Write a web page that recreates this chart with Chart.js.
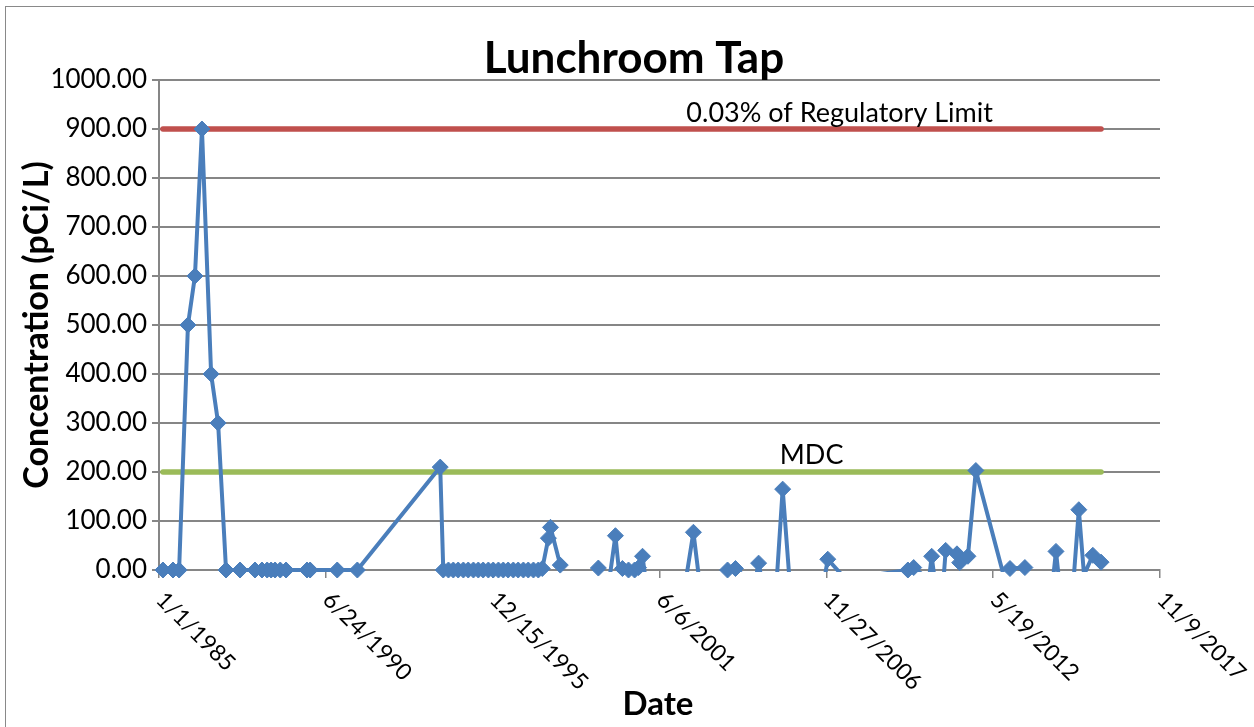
<!DOCTYPE html>
<html>
<head>
<meta charset="utf-8">
<script src="https://cdn.jsdelivr.net/npm/chart.js@4.4.0/dist/chart.umd.min.js"></script>
<style>
    html, body { margin: 0; padding: 0; background: #fff; }
    #wrap { position: relative; width: 1254px; height: 727px; overflow: hidden; }
    #marco { position: absolute; left: 5px; top: 6px; width: 1270px; height: 740px; border: 1px solid #898989; box-sizing: border-box; }
    canvas { position: absolute; left: 0; top: 0; }
</style>
</head>
<body>
<div id="wrap">
    <div id="marco"></div>
    <canvas id="grafica" width="1254" height="727"></canvas>
</div>
<script>
// Fechas de muestreo (año decimal) y concentraciones (pCi/L); null = sin dato
const sampleYears = [
    1985.13, 1985.46, 1985.66, 1985.95, 1986.18, 1986.41, 1986.71, 1986.94, 1987.20, 1987.66,
    1988.15, 1988.38, 1988.55, 1988.68, 1988.81, 1988.98, 1989.17, 1989.86, 1989.96, 1990.85,
    1991.51, 1994.23,
    1994.33, 1994.50, 1994.66, 1994.82, 1994.99, 1995.15, 1995.32, 1995.48, 1995.64, 1995.81,
    1995.97, 1996.14, 1996.30, 1996.46, 1996.63, 1996.79, 1996.96, 1997.12, 1997.29, 1997.45,
    1997.58, 1997.78, 1997.85, 1998.17, 1998.80, 1999.42, 1999.60, 1999.78, 1999.98, 2000.11,
    2000.21, 2000.41, 2000.61, 2000.74, 2000.87, 2000.97, 2002.28, 2002.54, 2002.77, 2003.20,
    2003.66, 2003.92, 2004.55, 2004.68, 2004.81, 2005.27, 2005.47, 2005.70, 2006.82, 2006.95,
    2007.70, 2008.69, 2009.58, 2009.77, 2010.27, 2010.36, 2010.46, 2010.76, 2010.82, 2011.19,
    2011.28, 2011.55, 2011.81, 2012.76, 2012.93, 2013.42, 2013.70, 2014.34,
    2014.44, 2014.54, 2015.03, 2015.19, 2015.36, 2015.65, 2015.92
];
const concentration = [
    0, 0, 0, 500, 600, 900, 400, 300, 0, 0,
    0, 0, 0, 0, 0, 0, 0, 0, 0, 0,
    0, 210,
    0, 0, 0, 0, 0, 0, 0, 0, 0, 0,
    0, 0, 0, 0, 0, 0, 0, 0, 0, 0,
    3, 65, 87, 10, null, 4, null, -20, 70, -10,
    3, 0, 0, 5, 28, -20, -25, 77, -40, null,
    0, 3, -30, 14, -30, -25, 165, -25, -25, 22,
    -30, -8, 0, 5, -20, 28, -20, -10, 40, 33,
    15, 28, 203, -20, 3, 5, null, -20,
    38, -20, -10, 123, -10, 30, 16
];

// Líneas de referencia
const limitLevel = 900;
const mdcLevel = 200;
const refStartYear = 1985.13;
const refEndYear = 2015.92;
const refLabels = ["0.03% of Regulatory Limit", "MDC"];
const refLabelYears = [2007.34, 2006.42];

// Marcas del eje X (días desde 1/1/1985)
const tickDays = [0, 2000, 4000, 6000, 8000, 10000, 12000];
const yTicks = [0, 100, 200, 300, 400, 500, 600, 700, 800, 900, 1000];

const azul = "#4A7EBB";
const rojo = "#C0504D";
const verde = "#9BBB59";
const gris = "#868686";

const toDays = y => (y - 1985) * 365.25;
const base = Date.UTC(1985, 0, 1);
function fechaTexto(d) {
    const f = new Date(base + d * 86400000);
    return (f.getUTCMonth() + 1) + "/" + f.getUTCDate() + "/" + f.getUTCFullYear();
}

const puntos = sampleYears.map((y, i) => ({ x: toDays(y), y: concentration[i] }));

const textos = {
    id: "textos",
    afterDraw(chart) {
        const ctx = chart.ctx;
        const sx = chart.scales.x, sy = chart.scales.y;
        ctx.save();
        ctx.fillStyle = "#000";
        // título
        ctx.font = "bold 44px Lato";
        ctx.textAlign = "center";
        ctx.textBaseline = "alphabetic";
        ctx.fillText("Lunchroom Tap", 634, 73);
        // título eje X
        ctx.font = "bold 33px Lato";
        ctx.textBaseline = "middle";
        ctx.fillText("Date", 658, 704);
        // título eje Y
        ctx.font = "bold 34px Lato";
        ctx.save();
        ctx.translate(37, 325);
        ctx.rotate(-Math.PI / 2);
        ctx.fillText("Concentration (pCi/L)", 0, 0);
        ctx.restore();
        // etiquetas del eje X, giradas
        ctx.font = "23px Lato";
        ctx.textAlign = "left";
        tickDays.forEach(d => {
            ctx.save();
            ctx.translate(sx.getPixelForValue(d) + 1, sy.bottom + 26);
            ctx.rotate(Math.PI / 4);
            ctx.fillText(fechaTexto(d), 0, 0);
            ctx.restore();
        });
        // rótulos de las líneas de referencia
        ctx.font = "27px Lato";
        ctx.textAlign = "center";
        ctx.fillText(refLabels[0], sx.getPixelForValue(toDays(refLabelYears[0])), sy.getPixelForValue(limitLevel) - 16);
        ctx.fillText(refLabels[1], sx.getPixelForValue(toDays(refLabelYears[1])), sy.getPixelForValue(mdcLevel) - 17);
        ctx.restore();
    }
};

new Chart(document.getElementById("grafica").getContext("2d"), {
    type: "line",
    data: {
        datasets: [
            {
                // marcadores
                data: puntos,
                showLine: false,
                pointStyle: "rectRot",
                pointRadius: c => (c.raw && c.raw.y < 0) ? 0 : 8,
                backgroundColor: azul,
                borderColor: azul,
                pointBorderWidth: 1,
                clip: { left: 10, right: 10, top: 10, bottom: 9 },
                order: 0
            },
            {
                // línea de la serie
                data: puntos,
                borderColor: azul,
                borderWidth: 4,
                borderJoinStyle: "round",
                pointRadius: 0,
                tension: 0,
                spanGaps: false,
                clip: { left: 10, right: 10, top: 10, bottom: 2 },
                order: 1
            },
            {
                data: [{ x: toDays(refStartYear), y: limitLevel }, { x: toDays(refEndYear), y: limitLevel }],
                borderColor: rojo,
                borderWidth: 5.5,
                borderCapStyle: "round",
                pointRadius: 0,
                order: 2
            },
            {
                data: [{ x: toDays(refStartYear), y: mdcLevel }, { x: toDays(refEndYear), y: mdcLevel }],
                borderColor: verde,
                borderWidth: 5.5,
                borderCapStyle: "round",
                pointRadius: 0,
                order: 2
            }
        ]
    },
    options: {
        responsive: false,
        animation: false,
        layout: { padding: { top: 80, right: 94, left: 0, bottom: 0 } },
        plugins: { legend: { display: false }, tooltip: { enabled: false } },
        scales: {
            x: {
                type: "linear",
                min: 0,
                max: 12000,
                afterBuildTicks: s => { s.ticks = tickDays.map(v => ({ value: v })); },
                ticks: { display: false },
                grid: { drawOnChartArea: false, drawTicks: true, tickLength: 8, color: gris, lineWidth: 1.5 },
                border: { display: true, color: gris, width: 2 },
                afterFit: s => { s.height = 157; }
            },
            y: {
                min: 0,
                max: 1000,
                afterBuildTicks: s => { s.ticks = yTicks.map(v => ({ value: v })); },
                ticks: { callback: v => v.toFixed(2), font: { family: "Lato", size: 26 }, color: "#000", padding: 5 },
                grid: { color: gris, lineWidth: 2, tickLength: 7 },
                border: { display: true, color: gris, width: 2 },
                afterFit: s => { s.width = 159; }
            }
        }
    },
    plugins: [textos]
});
</script>
</body>
</html>
